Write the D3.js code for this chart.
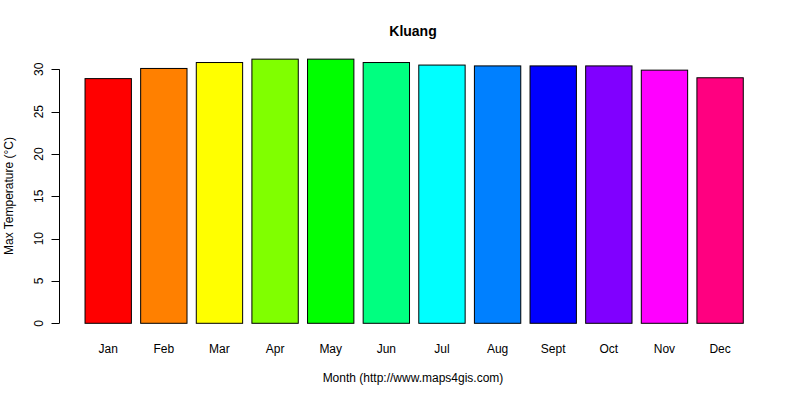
<!DOCTYPE html>
<html><head><meta charset="utf-8">
<script src="https://cdn.jsdelivr.net/npm/d3@7"></script>
<style>body{margin:0;background:#fff}svg{display:block}text{font-family:"Liberation Sans",Arial,sans-serif;fill:#000}</style>
</head><body>
<svg id="c" width="800" height="400"></svg>
<script>
const months = ["Jan","Feb","Mar","Apr","May","Jun","Jul","Aug","Sept","Oct","Nov","Dec"];
const maxTemp = [28.9,30.1,30.8,31.2,31.2,30.8,30.5,30.4,30.4,30.4,29.9,29.0];
const barColors = ["#FF0000","#FF8000","#FFFF00","#80FF00","#00FF00","#00FF80","#00FFFF","#0080FF","#0000FF","#8000FF","#FF00FF","#FF0080"];
const yTicks = [0,5,10,15,20,25,30];
const title = "Kluang";
const xTitle = "Month (http://www.maps4gis.com)";
const yTitle = "Max Temperature (°C)";

const svg = d3.select("#c");
// R barplot layout: bar width 1, space 0.2 -> bar i spans [0.2+1.2i, 1.2+1.2i]
const x = d3.scaleLinear().domain([-0.368, 14.968]).range([58.7, 769.6]);
const y = d3.scaleLinear().domain([0, 30]).range([323.3, 69.3]);

svg.selectAll("rect.bar").data(maxTemp).enter().append("rect")
  .attr("class","bar")
  .attr("x",(d,i)=>x(0.2+1.2*i))
  .attr("width",(d,i)=>x(1.2+1.2*i)-x(0.2+1.2*i))
  .attr("y",d=>y(d))
  .attr("height",d=>y(0)-y(d))
  .attr("fill",(d,i)=>barColors[i])
  .attr("stroke","#000").attr("stroke-width",1);

// y axis
const ya = svg.append("g").attr("transform","translate(59.5,0)");
ya.append("line").attr("x1",0).attr("x2",0).attr("y1",y(0)).attr("y2",y(30)).attr("stroke","#000");
ya.selectAll("line.t").data(yTicks).enter().append("line").attr("class","t")
  .attr("x1",-8).attr("x2",0).attr("y1",d=>Math.round(y(d))+0.5).attr("y2",d=>Math.round(y(d))+0.5).attr("stroke","#000");
ya.selectAll("text").data(yTicks).enter().append("text")
  .attr("transform",d=>`translate(-17,${y(d)}) rotate(-90)`)
  .attr("text-anchor","middle").attr("font-size","12px").text(d=>d);

// x labels
svg.selectAll("text.m").data(months).enter().append("text").attr("class","m")
  .attr("x",(d,i)=>x(0.7+1.2*i)).attr("y",353)
  .attr("text-anchor","middle").attr("font-size","12px").text(d=>d);

svg.append("text").attr("x",413).attr("y",36).attr("text-anchor","middle")
  .attr("font-size","14px").attr("font-weight","bold").text(title);
svg.append("text").attr("x",413).attr("y",382).attr("text-anchor","middle")
  .attr("font-size","12px").text(xTitle);
svg.append("text").attr("transform","translate(13,196) rotate(-90)").attr("text-anchor","middle")
  .attr("font-size","12px").text(yTitle);
</script>
</body></html>
